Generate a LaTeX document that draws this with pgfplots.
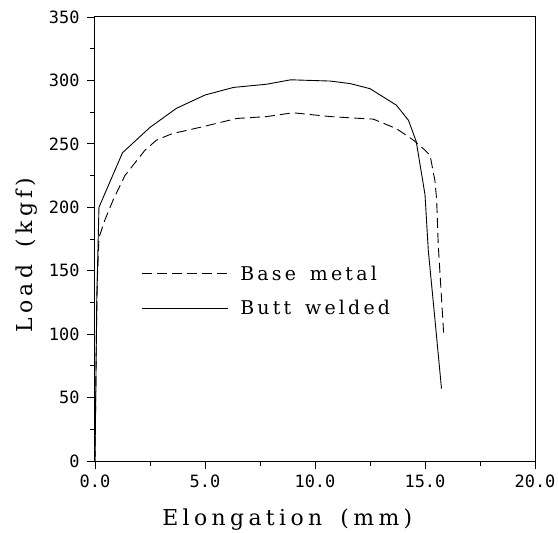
\documentclass[border=0pt]{standalone}
\usepackage{fontspec}
\usepackage{pgfplots}
\pgfplotsset{compat=1.18}
\newfontfamily\tickfont{DejaVu Sans Mono}
\newfontfamily\lblfont{DejaVu Serif}[LetterSpace=20, WordSpace=1.6]
\newfontfamily\ylblfont{DejaVu Serif}[LetterSpace=19, WordSpace=1.6]
\newfontfamily\legfont{DejaVu Serif}[LetterSpace=17, WordSpace=1.5]

\pgfplotstableread{
x y
0 0
0.04 60
0.08 127
0.18 200
1.25 243
2.5 263
3.7 278
5.0 288.5
6.3 294.5
7.8 297
8.9 300.5
10.7 299.5
11.6 297.5
12.5 293.5
13.7 280.5
14.25 268.5
14.6 252
15.0 210
15.15 166
15.45 112
15.75 57
}\butt

\pgfplotstableread{
x y
0 0
0.05 80
0.1 140
0.18 176
0.45 190
0.83 206
1.36 225
2.27 245
2.8 253
3.5 258
4.77 263
6.44 270
7.8 271.5
9.0 274.5
10.7 271.5
11.6 270.5
12.65 269.5
13.7 262
14.47 253
15.0 245
15.23 241
15.45 221
15.53 206
15.6 171
15.85 100
}\base

\begin{document}
\begin{tikzpicture}
\begin{axis}[
  scale only axis,
  width=440bp, height=444bp,
  xmin=0, xmax=20, ymin=0, ymax=350,
  xtick={0,5,10,15,20},
  ytick={0,50,100,150,200,250,300,350},
  minor x tick num=1, minor y tick num=1,
  xtick pos=bottom, ytick pos=left,
  tick align=outside,
  major tick length=8bp, minor tick length=5bp,
  axis line style={line width=1bp},
  every tick/.style={black, line width=0.9bp},
  /pgf/number format/assume math mode=true,
  tick label style={font=\tickfont\fontsize{17}{18}\selectfont},
  xticklabel style={/pgf/number format/fixed, /pgf/number format/fixed zerofill, /pgf/number format/precision=1, yshift=-2bp},
  yticklabel style={xshift=-4bp},
  xlabel={Elongation (mm)},
  ylabel={Load (kgf)},
  xlabel style={font=\lblfont\fontsize{22}{26}\selectfont, at={(axis description cs:0.437,0)}, anchor=base, yshift=-64bp},
  ylabel style={font=\ylblfont\fontsize{22}{26}\selectfont, at={(axis description cs:0,0.464)}, anchor=base, yshift=62bp},
  legend image code/.code={\draw[#1] (0bp,0bp) -- (86bp,0bp);},
  legend cell align=left,
  legend style={at={(axis cs:2.1,134)}, anchor=west, draw=none, fill=none,
    inner sep=0pt, row sep=19bp, font=\legfont\fontsize{19}{22}\selectfont,
    nodes={inner sep=0pt},
    /tikz/every odd column/.append style={column sep=12bp}},
]
\addplot[black, line width=0.9bp, dash pattern=on 10bp off 5bp] table[x=x,y=y]{\base};
\addlegendentry{Base metal}
\addplot[black, line width=0.9bp] table[x=x,y=y]{\butt};
\addlegendentry{Butt welded}
\end{axis}
\pgfresetboundingbox
\path[use as bounding box] ([xshift=-95bp,yshift=-72bp]current axis.south west) rectangle ([xshift=23bp,yshift=17bp]current axis.north east);
\end{tikzpicture}
\end{document}
